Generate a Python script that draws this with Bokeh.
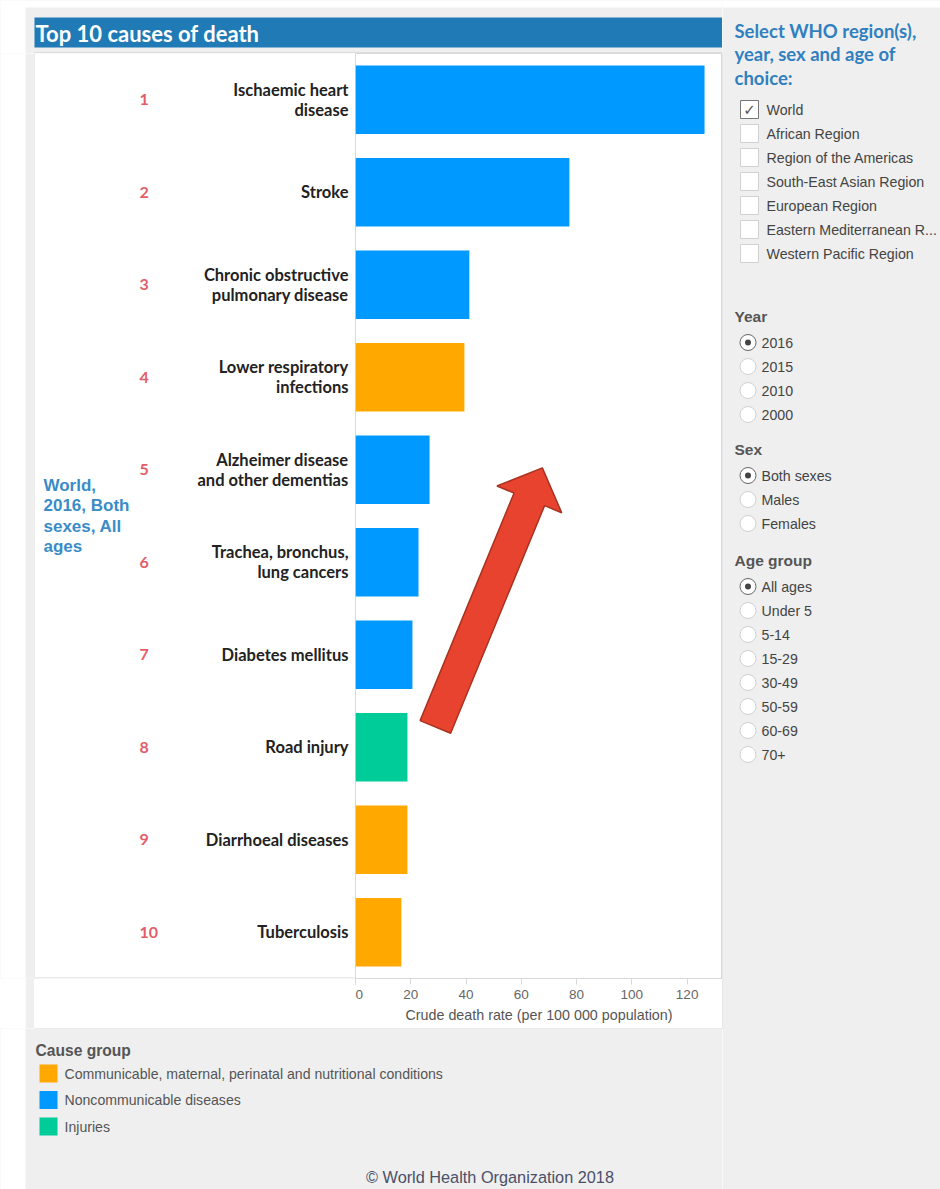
import math
from bokeh.plotting import figure
from bokeh.layouts import row, column
from bokeh.models import Range1d, FixedTicker, ColumnDataSource
from bokeh.core.properties import value
from bokeh.embed import file_html
from bokeh.resources import INLINE

# ---------------- data ----------------
ranks = [1, 2, 3, 4, 5, 6, 7, 8, 9, 10]
causes = ["Ischaemic heart\ndisease", "Stroke", "Chronic obstructive\npulmonary disease",
          "Lower respiratory\ninfections", "Alzheimer disease\nand other dementias",
          "Trachea, bronchus,\nlung cancers", "Diabetes mellitus", "Road injury",
          "Diarrhoeal diseases", "Tuberculosis"]
rates = [126.3, 77.4, 41.2, 39.4, 26.8, 22.8, 20.6, 18.8, 18.8, 16.6]
groups = ["Noncommunicable diseases", "Noncommunicable diseases", "Noncommunicable diseases",
          "Communicable, maternal, perinatal and nutritional conditions",
          "Noncommunicable diseases", "Noncommunicable diseases", "Noncommunicable diseases",
          "Injuries",
          "Communicable, maternal, perinatal and nutritional conditions",
          "Communicable, maternal, perinatal and nutritional conditions"]
group_names = ["Communicable, maternal, perinatal and nutritional conditions",
               "Noncommunicable diseases", "Injuries"]
group_colors = ["#ffa800", "#0099ff", "#00cc99"]
x_ticks = [0, 20, 40, 60, 80, 100, 120]
x_label = "Crude death rate (per 100 000 population)"
title_text = "Top 10 causes of death"
selection_text = ["World,", "2016, Both", "sexes, All", "ages"]
panel_heading = ["Select WHO region(s),", "year, sex and age of", "choice:"]
regions = ["World", "African Region", "Region of the Americas", "South-East Asian Region",
           "European Region", "Eastern Mediterranean R...", "Western Pacific Region"]
regions_checked = [True, False, False, False, False, False, False]
years = ["2016", "2015", "2010", "2000"]
sexes = ["Both sexes", "Males", "Females"]
ages = ["All ages", "Under 5", "5-14", "15-29", "30-49", "50-59", "60-69", "70+"]
footer_text = "\u00a9 World Health Organization 2018"
arrow_tail = (28.9, 7.78)   # (rate, rank) of the arrow tail
arrow_tip = (67.6, 4.98)

# ---------------- layout constants (page pixels) ----------------
PW, PH = 940, 1189
BG = "#efefef"
X_MAX = 132.8
FL, FR, FT, FB = 355, 722, 53, 978      # bar plot frame
PANEL = (34, 52, 722, 1028)             # white panel
ROW_PX = (FB - FT) / 10.0


def canvas_fig(x0, y0, x1, y1, pad_bottom=0, pad_fill=BG):
    f = figure(width=x1 - x0, height=y1 - y0 + pad_bottom, x_range=Range1d(x0, x1),
               y_range=Range1d(y1, y0), output_backend="svg", toolbar_location=None,
               x_axis_type=None, y_axis_type=None, min_border=0, title=None)
    f.min_border_left = f.min_border_right = f.min_border_top = 0
    f.min_border_bottom = pad_bottom
    f.outline_line_color = None
    f.background_fill_color = BG
    f.border_fill_color = pad_fill
    # page decoration (clipped to each figure)
    f.quad(left=[0], right=[PW], top=[0], bottom=[7], color="white", line_color=None)
    f.quad(left=[0], right=[25], top=[0], bottom=[PH], color="white", line_color=None)
    f.quad(left=[PANEL[0]], right=[PANEL[2]], top=[PANEL[1]], bottom=[PANEL[3]],
           fill_color="white", line_color="#dcdcdc", line_width=1)
    return f


def txt(f, x, y, t, size, color, font="Liberation Sans", style="normal", align="left", **kw):
    f.text(x=x, y=y, text=t, text_font=value(font), text_font_size=f"{size}px",
           text_font_style=style, text_color=color, text_align=align, text_baseline="middle", **kw)


# ---------- top strip ----------
top = canvas_fig(0, 0, FR, FT)
top.quad(left=[34], right=[722], top=[17], bottom=[47], color="#1f7ab5", line_color=None)
txt(top, [35], [32.5], [title_text], 22, "white", font="Lato", style="bold")

# ---------- bar chart ----------
color_of = dict(zip(group_names, group_colors))
src = ColumnDataSource(dict(rank=ranks, rate=rates, color=[color_of[g] for g in groups]))
bar = figure(width=FR - FL, height=PANEL[3] - FT, output_backend="svg", toolbar_location=None,
             title=None, x_range=Range1d(0, X_MAX), y_range=Range1d(10.5, 0.5),
             y_axis_location=None, min_border=0)
bar.min_border_left = 0
bar.min_border_right = 0
bar.min_border_top = 0
bar.min_border_bottom = PANEL[3] - FB
bar.border_fill_color = "white"
bar.background_fill_color = "white"
bar.outline_line_color = "#d9d9d9"
bar.xgrid.visible = False
bar.ygrid.visible = False
bar.hbar(y="rank", left=0, right="rate", height=0.74, color="color", line_color=None, source=src)

bar.xaxis.ticker = FixedTicker(ticks=x_ticks)
bar.xaxis.axis_label = x_label
bar.xaxis.axis_label_text_font = "Liberation Sans"
bar.xaxis.axis_label_text_font_style = "normal"
bar.xaxis.axis_label_text_font_size = "14.3px"
bar.xaxis.axis_label_text_color = "#555555"
bar.xaxis.axis_label_standoff = 5
bar.xaxis.major_label_text_font = "Liberation Sans"
bar.xaxis.major_label_text_font_size = "13.5px"
bar.xaxis.major_label_text_color = "#666666"
bar.xaxis.major_label_standoff = 5
bar.xaxis.axis_line_color = "#d9d9d9"
bar.xaxis.major_tick_line_color = "#d9d9d9"
bar.xaxis.major_tick_out = 6
bar.xaxis.major_tick_in = 0
bar.xaxis.minor_tick_line_color = None

# arrow decoration, geometry in pixels, converted to data units
sx = (FR - FL) / X_MAX
sy = ROW_PX
tx, ty = arrow_tail[0] * sx, arrow_tail[1] * sy
hx, hy = arrow_tip[0] * sx, arrow_tip[1] * sy
L = math.hypot(hx - tx, hy - ty)
ux, uy = (hx - tx) / L, (hy - ty) / L
nx, ny = -uy, ux
sh, hh, hl = 16.5, 35.0, 34.0
bx, by = hx - ux * hl, hy - uy * hl
pts = [(tx - nx * sh, ty - ny * sh), (bx - nx * sh, by - ny * sh), (bx - nx * hh, by - ny * hh),
       (hx, hy), (bx + nx * hh, by + ny * hh), (bx + nx * sh, by + ny * sh),
       (tx + nx * sh, ty + ny * sh)]
bar.patch([q[0] / sx for q in pts], [q[1] / sy for q in pts], fill_color="#e8432e",
          line_color="#a8321f", line_width=1.5)

# ---------- left labels (frames aligned with the bar frame) ----------
strip_w = canvas_fig(0, FT, 25, FB, pad_bottom=PANEL[3] - FB, pad_fill="white")
strip_g = canvas_fig(25, FT, PANEL[0], FB, pad_bottom=PANEL[3] - FB, pad_fill=BG)
left = canvas_fig(PANEL[0], FT, FL, FB, pad_bottom=PANEL[3] - FB, pad_fill="white")
left.extra_y_ranges = {"rank": bar.y_range}
left.quad(left=[34], right=[FL], top=[FB - 1], bottom=[FB], color="#d9d9d9", line_color=None)
txt(left, [139] * len(ranks), ranks, [str(r) for r in ranks], 16, "#e35d68", font="Lato",
    style="bold", y_range_name="rank")
txt(left, [348] * len(ranks), ranks, causes, 16.5, "#222222", font="Lato", style="bold",
    align="right", y_range_name="rank", text_line_height=1.0)
txt(left, [43] * 4, [485 + i * 20.3 for i in range(4)], selection_text, 17, "#3a8cc8",
    style="bold")

# ---------- bottom: legend + footer ----------
bottom = canvas_fig(0, PANEL[3], FR, PH)
txt(bottom, [35], [1050], ["Cause group"], 15.6, "#555555", style="bold")
ly = [1073 + i * 26.5 for i in range(len(group_names))]
bottom.quad(left=[39] * 3, right=[57] * 3, top=[y - 9 for y in ly], bottom=[y + 9 for y in ly],
            color=group_colors, line_color=None)
txt(bottom, [64] * 3, ly, group_names, 14.1, "#555555")
txt(bottom, [489.5], [1176], [footer_text], 16.3, "#4a5068", align="center")

# ---------- right selection panel ----------
right = canvas_fig(FR, 0, PW, PH)
right.quad(left=[FR - 1], right=[FR], top=[PANEL[1]], bottom=[PANEL[3]], color="#dcdcdc",
           line_color=None)
txt(right, [734] * 3, [30 + i * 23.5 for i in range(3)], panel_heading, 18.5, "#2f80c0",
    font="Lato", style="bold")
cy = [109 + i * 24 for i in range(len(regions))]
right.quad(left=[740] * len(cy), right=[758] * len(cy), top=[y - 9 for y in cy],
           bottom=[y + 9 for y in cy], fill_color="white",
           line_color=["#777777" if c else "#d0d0d0" for c in regions_checked], line_width=1)
txt(right, [749] * sum(regions_checked), [y for y, c in zip(cy, regions_checked) if c],
    ["\u2713"] * sum(regions_checked), 15, "#555555", font="DejaVu Sans", align="center")
txt(right, [766] * len(cy), cy, regions, 14.2, "#444444")


def radio_group(title, title_y, items, first_y):
    txt(right, [734], [title_y], [title], 15.5, "#555555", style="bold")
    ys = [first_y + i * 24 for i in range(len(items))]
    right.scatter(x=[747.5] * len(ys), y=ys, size=16, marker="circle", fill_color="white",
                  line_color=["#666666"] + ["#d0d0d0"] * (len(ys) - 1), line_width=1)
    right.scatter(x=[747.5], y=[ys[0]], size=6, marker="circle", fill_color="#444444",
                  line_color=None)
    txt(right, [761] * len(ys), ys, items, 14.2, "#444444")


radio_group("Year", 316, years, 342)
radio_group("Sex", 449, sexes, 475)
radio_group("Age group", 560, ages, 586)

layout = row(column(top, row(strip_w, strip_g, left, bar), bottom), right)
open("out.html", "w").write(file_html(layout, INLINE))
